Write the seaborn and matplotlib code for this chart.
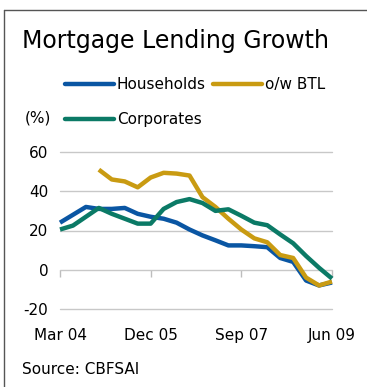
import numpy as np
import pandas as pd
import matplotlib
matplotlib.use("Agg")
import matplotlib.pyplot as plt
from matplotlib.lines import Line2D
import seaborn as sns

# Quarterly observations, Mar 04 .. Jun 09
quarters = pd.period_range("2004Q1", "2009Q2", freq="Q")
households = [24, 28, 32, 31, 31, 31.5, 28.5, 27, 26, 24, 20.5, 17.5, 15, 12.4,
              12.4, 12, 11.5, 6, 4, -5.5, -8, -6.5]
btl = [np.nan, np.nan, np.nan, 51, 46, 45, 42, 47, 49.4, 49, 48, 37, 32, 26,
       20.5, 16, 14, 7.5, 6, -4, -8, -6]
corporates = [20.5, 22.5, 27, 31.5, 28.5, 26, 23.5, 23.5, 31, 34.5, 36, 34, 30,
              30.8, 27.5, 24, 22.7, 18, 13.5, 7, 1, -4.5]

series_names = ["Households", "o/w BTL", "Corporates"]
colors = {"Households": "#0a56a3", "o/w BTL": "#c99b12", "Corporates": "#0b7a66"}
y_ticks = [-20, 0, 20, 40, 60]
x_tick_idx = [0, 7, 14, 21]
x_tick_labels = ["Mar 04", "Dec 05", "Sep 07", "Jun 09"]

idx = np.arange(len(quarters))
df = pd.concat([
    pd.DataFrame({"q": idx, "value": households, "series": "Households"}),
    pd.DataFrame({"q": idx, "value": btl, "series": "o/w BTL"}),
    pd.DataFrame({"q": idx, "value": corporates, "series": "Corporates"}),
]).dropna()

sns.set_style("white")
plt.rcParams["font.family"] = ["DejaVu Sans"]
plt.rcParams["text.color"] = "black"
plt.rcParams["xtick.labelcolor"] = "black"
plt.rcParams["ytick.labelcolor"] = "black"
fs = 11

W, H = 367, 387
fig = plt.figure(figsize=(W / 100, H / 100), dpi=100)
fig.patch.set_facecolor("white")

ax = fig.add_axes([60 / W, (H - 309) / H, 272 / W, 157 / H])
ax.set_facecolor("white")

# gridlines first, lines on top
for v in y_ticks:
    ax.axhline(v, color="#c8c8c8", lw=1.0, zorder=1)

sns.lineplot(data=df, x="q", y="value", hue="series", hue_order=series_names,
             palette=colors, lw=3.2, ax=ax, legend=False, zorder=3,
             solid_capstyle="butt")
for ln in ax.lines:
    ln.set_clip_on(False)

ax.set_xlim(0, 21)
ax.set_ylim(-20, 60)
ax.set_yticks(y_ticks)
ax.set_yticklabels([str(v) for v in y_ticks], fontsize=fs)
ax.set_xticks(x_tick_idx)
ax.set_xticklabels(x_tick_labels, fontsize=fs)
ax.tick_params(axis="y", length=0, pad=8.5, labelcolor="black")
ax.tick_params(axis="x", length=0, pad=14, labelcolor="black")
ax.set_xlabel("")
ax.set_ylabel("")
for s in ax.spines.values():
    s.set_visible(False)

# small tick marks hanging from the zero line
sec = ax.secondary_xaxis(0.25)
sec.set_xticks(x_tick_idx)
sec.set_xticklabels([])
sec.tick_params(axis="x", direction="out", length=5, width=1, color="#bdbdbd")
sec.spines["bottom"].set_visible(False)

# legend: row 1 Households, o/w BTL; row 2 Corporates
handles = {n: Line2D([], [], color=colors[n], lw=3.2, solid_capstyle="round")
           for n in series_names}
order = ["Households", "Corporates", "o/w BTL"]
fig.legend([handles[n] for n in order], order, ncol=2, frameon=False,
           loc="upper left", bbox_to_anchor=(65 / W, 1 - 77 / H),
           borderpad=0, borderaxespad=0, handlelength=3.2, handletextpad=0.2,
           columnspacing=0.45, labelspacing=1.3, fontsize=fs)

fig.text(22 / W, 1 - 48 / H, "Mortgage Lending Growth", fontsize=17,
         ha="left", va="baseline")
fig.text(25 / W, 1 - 118 / H, "(%)", fontsize=fs, ha="left", va="center")
fig.text(22 / W, 1 - 370 / H, "Source: CBFSAI", fontsize=fs, ha="left",
         va="center")

# panel frame (top and left edges)
fig.add_artist(Line2D([4 / W, 1.0], [1 - 10 / H, 1 - 10 / H], color="#555555",
                      lw=1.0, transform=fig.transFigure))
fig.add_artist(Line2D([4 / W, 4 / W], [1 - 10 / H, 0.0], color="#555555",
                      lw=1.0, transform=fig.transFigure))

fig.savefig("out.png", dpi=100, facecolor="white")
